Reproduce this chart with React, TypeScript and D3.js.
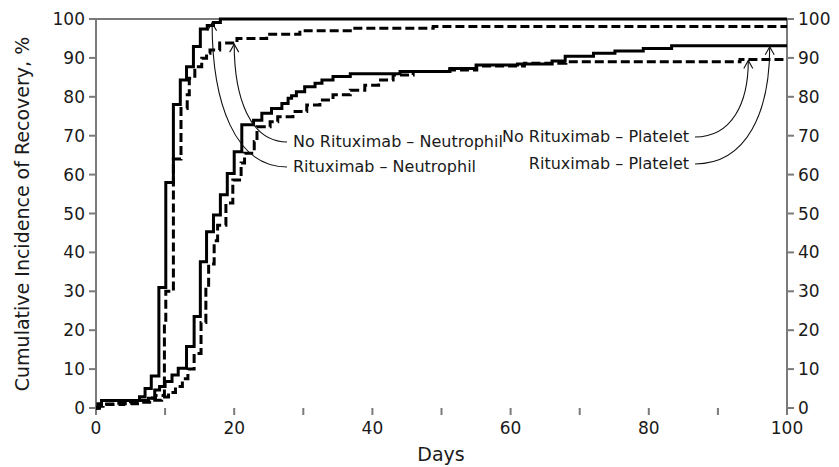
import React, { useEffect, useRef } from "react";
import * as d3 from "d3";

// step data: [day, cumulative %]
const rituxNeutrophil = [
  [0, 0], [0.3, 1], [0.8, 1.9], [6.3, 2.9], [7.1, 5], [8.0, 8.2], [9.1, 31], [10.1, 58],
  [11.2, 78], [12.2, 84.3], [13.1, 87.7], [14.1, 92.9], [15.1, 97.4], [16.1, 98.3],
  [17, 99.1], [18, 100], [100, 100],
];
const noRituxNeutrophil = [
  [0, 0], [0.5, 0.5], [1, 1], [3, 1.2], [5, 1.5], [6.5, 2], [7.5, 2.6], [8.6, 3.2],
  [9.9, 21.8], [10.1, 30], [11.2, 64], [12.3, 77], [13.2, 80.5], [13.5, 84.8], [14.3, 87.7],
  [15.3, 89.9], [16, 91.2], [16.5, 92], [17.9, 93.8], [20.4, 95], [24.7, 96.1], [29.5, 97],
  [36.8, 97.6], [48.8, 98.1], [100, 98.1],
];
const rituxPlatelet = [
  [0, 0], [0.3, 1], [0.8, 1.9], [7.6, 2.5], [8.5, 4.6], [9.2, 5.5], [10, 6.8], [11, 8.5],
  [11.9, 10.2], [13.1, 15.8], [14.2, 23.5], [15.1, 37.6], [16, 45.3], [17, 49.6], [18, 54.8],
  [19, 60.3], [20, 65.9], [21.1, 72.8], [22.8, 74], [24, 75.8], [25.4, 77], [26.9, 78.3],
  [27.8, 79.6], [28.3, 80.3], [29, 81.3], [30.2, 82.6], [31.7, 83.5], [32.7, 84.3],
  [34.3, 85.2], [36.8, 85.9], [44, 86.5], [51.2, 87.3], [55, 88.2], [61, 88.4], [66, 89.2],
  [67.9, 90.4], [72, 91.2], [75.1, 91.8], [79.2, 92.4], [83.3, 93.1], [100, 93.1],
];
const noRituxPlatelet = [
  [0, 0], [0.5, 0.5], [1, 0.9], [4, 1.1], [6, 1.5], [8, 2], [9.5, 2.8], [10.5, 4], [11.5, 5.5],
  [12.5, 7.5], [13.3, 10], [14.2, 14], [15.2, 22], [15.9, 31], [16.3, 37], [17.1, 43],
  [17.6, 47], [18.8, 52.7], [19.8, 58.6], [21, 63], [21.5, 65.5], [22.9, 68.5], [23.3, 72.3],
  [25.2, 73.6], [26.3, 74.9], [28.5, 76.2], [30.5, 77.9], [32.4, 79.2], [34.3, 80.5],
  [36.8, 81.7], [38.9, 83], [40.9, 84.3], [43, 85.6], [45.9, 86.5], [51.2, 86.9], [55.1, 87.9],
  [62, 88.6], [68, 89], [93.2, 89.6], [100, 89.6],
];

const xTicks = [0, 10, 20, 30, 40, 50, 60, 70, 80, 90, 100];
const xLabels = [0, 20, 40, 60, 80, 100];
const yTicks = [0, 10, 20, 30, 40, 50, 60, 70, 80, 90, 100];

// label text, text position, and the point the arrow points to [day, %]
const labels = [
  { text: "No Rituximab – Neutrophil", tx: 293, ty: 147, anchor: "start", target: [20, 93.8] },
  { text: "Rituximab – Neutrophil", tx: 293, ty: 172, anchor: "start", target: [16.8, 99.3] },
  { text: "No Rituximab – Platelet", tx: 689, ty: 142, anchor: "end", target: [94.4, 89.6] },
  { text: "Rituximab – Platelet", tx: 689, ty: 169, anchor: "end", target: [97.5, 93.1] },
];

export default function App() {
  const ref = useRef(null);

  useEffect(() => {
    const W = 839, H = 467;
    const svg = d3.select(ref.current);
    svg.selectAll("*").remove();
    svg.attr("width", W).attr("height", H);

    const x = d3.scaleLinear().domain([0, 100]).range([96, 787]);
    const y = d3.scaleLinear().domain([0, 100]).range([408, 19]);
    const axisCol = "#7a7a7a";
    const font = "DejaVu Sans, Verdana, sans-serif";
    const textCol = "#1a1a1a";

    // frame / axes
    const g = svg.append("g");
    g.append("line").attr("x1", x(0)).attr("x2", x(100)).attr("y1", y(100)).attr("y2", y(100))
      .attr("stroke", axisCol).attr("stroke-width", 2);
    g.append("line").attr("x1", x(0)).attr("x2", x(0)).attr("y1", y(0)).attr("y2", y(100))
      .attr("stroke", axisCol).attr("stroke-width", 2);
    g.append("line").attr("x1", x(100)).attr("x2", x(100)).attr("y1", y(0)).attr("y2", y(100))
      .attr("stroke", axisCol).attr("stroke-width", 2);

    g.selectAll(".yl").data(yTicks).enter().append("line")
      .attr("x1", x(0) - 7).attr("x2", x(0)).attr("y1", d => y(d)).attr("y2", d => y(d))
      .attr("stroke", axisCol).attr("stroke-width", 2);
    g.selectAll(".yr").data(yTicks).enter().append("line")
      .attr("x1", x(100)).attr("x2", x(100) + 7).attr("y1", d => y(d)).attr("y2", d => y(d))
      .attr("stroke", axisCol).attr("stroke-width", 2);
    g.selectAll(".xt").data(xTicks).enter().append("line")
      .attr("x1", d => x(d)).attr("x2", d => x(d)).attr("y1", y(0)).attr("y2", y(0) + 7)
      .attr("stroke", axisCol).attr("stroke-width", 2);

    g.selectAll(".ylt").data(yTicks).enter().append("text")
      .attr("x", x(0) - 11).attr("y", d => y(d) + 6).attr("text-anchor", "end")
      .attr("font-family", font).attr("font-size", 17).attr("fill", textCol).text(d => d);
    g.selectAll(".yrt").data(yTicks).enter().append("text")
      .attr("x", x(100) + 11).attr("y", d => y(d) + 6).attr("text-anchor", "start")
      .attr("font-family", font).attr("font-size", 17).attr("fill", textCol).text(d => d);
    g.selectAll(".xlt").data(xLabels).enter().append("text")
      .attr("x", d => x(d)).attr("y", 434).attr("text-anchor", "middle")
      .attr("font-family", font).attr("font-size", 17).attr("fill", textCol).text(d => d);

    g.append("text").attr("x", 441).attr("y", 461).attr("text-anchor", "middle")
      .attr("font-family", font).attr("font-size", 19).attr("fill", textCol).text("Days");
    g.append("text").attr("transform", "translate(29,214) rotate(-90)").attr("text-anchor", "middle")
      .attr("font-family", font).attr("font-size", 19).attr("fill", textCol)
      .text("Cumulative Incidence of Recovery, %");

    // step curves
    const line = d3.line().x(d => x(d[0])).y(d => y(d[1])).curve(d3.curveStepAfter);
    const series = [
      { data: rituxNeutrophil, dash: null },
      { data: noRituxNeutrophil, dash: "9,4" },
      { data: rituxPlatelet, dash: null },
      { data: noRituxPlatelet, dash: "9,4" },
    ];
    series.forEach(s => {
      svg.append("path").attr("d", line(s.data)).attr("fill", "none")
        .attr("stroke", "#000").attr("stroke-width", 3)
        .attr("stroke-dasharray", s.dash);
    });

    // annotations with curved arrows
    labels.forEach(l => {
      svg.append("text").attr("x", l.tx).attr("y", l.ty).attr("text-anchor", l.anchor)
        .attr("font-family", font).attr("font-size", 16)
        .attr("fill", textCol).text(l.text);
      const tx = x(l.target[0]);
      const ty = y(l.target[1]) + 1;
      const sx = l.anchor === "start" ? l.tx - 6 : l.tx + 6;
      const sy = l.ty - 5;
      const p = d3.path();
      p.moveTo(sx, sy);
      p.bezierCurveTo(sx + (tx - sx) * 0.7, sy, tx, sy - (sy - ty) * 0.45, tx, ty);
      svg.append("path").attr("d", p.toString()).attr("fill", "none")
        .attr("stroke", "#111").attr("stroke-width", 1.1);
      svg.append("path").attr("d", `M${tx - 4.5},${ty + 8} L${tx},${ty} L${tx + 4.5},${ty + 8}`)
        .attr("fill", "none").attr("stroke", "#111").attr("stroke-width", 1.1);
    });
  }, []);

  return <svg ref={ref} style={{ position: "absolute", left: 0, top: 0 }} />;
}
